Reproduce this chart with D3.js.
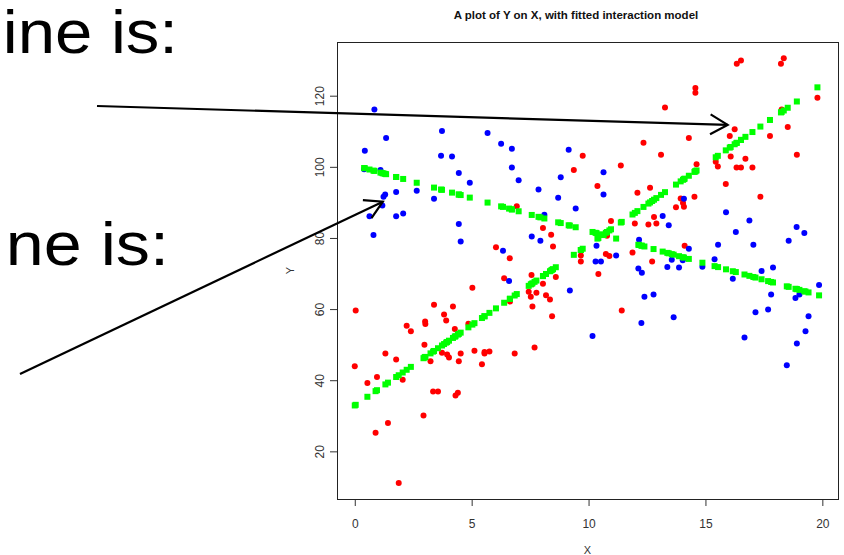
<!DOCTYPE html>
<html>
<head>
<meta charset="utf-8">
<script src="https://cdn.jsdelivr.net/npm/d3@7.9.0/dist/d3.min.js"></script>
<style>
  body { margin: 0; background: #fff; }
  svg { display: block; font-family: "Liberation Sans", Arial, sans-serif; }
</style>
</head>
<body>
<svg id="chart" width="844" height="555"></svg>
<script>
// group 1 (red) observations [X, Y]
const redPts = [
  [0.04,59.6],[0.0,43.9],[0.54,39.2],[0.95,40.9],[1.31,47.5],[1.77,45.8],[2.05,40.1],[0.89,25.2],
  [1.42,28.0],[1.88,11.1],[2.22,55.3],[2.40,53.8],[3.01,56.5],[3.02,55.8],[2.98,50.0],[3.39,61.2],
  [3.82,58.5],[3.91,56.8],[4.20,60.7],[4.28,54.4],[3.24,45.3],[3.73,47.7],[3.95,47.2],[4.03,46.4],
  [4.53,47.5],[4.45,45.3],[3.35,36.8],[3.56,36.8],[4.31,35.7],[4.41,36.5],[2.94,30.1],[4.86,55.9],
  [5.03,66.0],[5.12,48.3],[5.55,47.9],[5.55,47.5],[5.76,48.1],[5.44,44.5],[6.39,68.7],[7.56,69.6],
  [8.60,69.0],[8.05,67.1],[7.44,64.9],[7.77,64.6],[7.53,63.5],[8.18,63.9],[8.35,62.7],[6.64,62.1],
  [7.60,60.7],[8.44,58.0],[7.69,49.2],[6.84,47.5],[10.42,69.9],[11.42,59.6],[6.04,77.4],[6.63,74.3],
  [6.93,88.9],[8.05,82.8],[8.40,80.9],[8.48,77.6],[9.37,99.1],[9.75,103.1],[10.38,94.6],[11.38,100.4],
  [12.35,106.8],[13.10,103.4],[13.27,116.7],[12.63,94.1],[12.09,92.7],[12.80,85.9],[11.98,84.1],[12.56,83.8],
  [12.90,84.1],[10.96,84.8],[10.79,80.6],[9.67,75.1],[9.67,73.4],[10.74,75.5],[10.89,74.9],[11.88,75.9],
  [12.72,73.4],[16.34,129.0],[16.52,129.9],[18.23,129.0],[18.35,130.5],[14.57,122.2],[14.57,120.8],[19.79,119.4],
  [18.26,116.1],[16.25,110.6],[16.04,108.7],[18.52,111.2],[17.76,108.7],[14.29,108.1],[18.91,103.4],[16.08,102.9],
  [16.71,102.3],[15.44,101.4],[15.53,100.1],[16.33,99.8],[16.52,99.8],[17.01,99.8],[14.62,100.7],[15.87,95.2],
  [17.35,91.6],[14.53,91.6],[13.94,91.1],[14.04,89.8],[14.08,88.8],[13.74,88.6],[14.11,77.8]
];

// group 2 (blue) observations [X, Y]
const bluePts = [
  [0.84,116.1],[1.34,108.1],[0.43,104.5],[3.73,110.1],[5.68,109.5],[6.26,106.5],[3.69,103.1],[4.16,102.9],
  [0.40,99.3],[1.10,99.1],[4.45,98.3],[4.92,95.5],[1.77,92.9],[2.65,93.3],[1.30,92.2],[1.23,91.6],
  [1.18,89.1],[3.39,91.0],[0.63,86.1],[1.77,86.1],[2.07,86.9],[0.80,80.8],[4.45,83.9],[4.53,79.0],
  [6.34,76.4],[6.72,105.1],[6.72,99.8],[7.01,96.2],[9.15,104.8],[8.81,97.1],[7.86,93.6],[8.70,91.3],
  [9.45,88.3],[10.64,98.5],[10.64,92.2],[8.11,86.5],[7.57,80.4],[7.94,79.2],[10.34,77.8],[10.30,73.4],
  [10.53,73.4],[11.18,75.1],[13.17,86.2],[13.43,83.6],[12.16,79.5],[12.13,71.4],[13.37,71.8],[6.60,67.9],
  [9.20,65.2],[12.28,70.2],[12.39,63.5],[12.78,64.1],[12.26,56.1],[10.17,52.4],[14.08,91.0],[15.88,87.2],
  [16.88,84.9],[16.30,81.7],[18.90,83.1],[19.23,81.4],[15.54,78.1],[17.05,78.1],[18.56,79.2],[14.29,77.0],
  [13.56,73.9],[14.03,73.7],[15.39,74.0],[13.87,71.7],[14.87,71.9],[17.40,70.7],[17.89,71.7],[16.17,68.5],
  [17.81,64.1],[18.85,63.1],[19.02,64.1],[19.86,66.8],[13.64,57.7],[17.14,59.1],[17.68,59.9],[19.41,58.0],
  [19.28,53.8],[16.67,52.0],[18.91,50.3],[18.48,44.2]
];

// fitted interaction model: intercept and slope per group
const groupColors = ["#ff0000", "#0000ff"];
const fitIntercepts = [32.9, 100.4];
const fitSlopes = [4.52, -1.84];

const xTicks = [0, 5, 10, 15, 20];
const yTicks = [20, 40, 60, 80, 100, 120];
const titleText = "A plot of Y on X, with fitted interaction model";
const slideLines = ["ine is:", "ne is:"];

// arrows: tail in page pixels, tip in data units
const arrowTails = [[97, 106], [20, 374]];
const arrowTips = [[15.95, 111.8], [1.20, 90.2]];

const svg = d3.select("#chart");

// plot region (R style, axes padded 4%)
const x = d3.scaleLinear().domain([-0.76, 20.67]).range([337, 838]);
const y = d3.scaleLinear().domain([6.6, 135.1]).range([499, 42]);

// slide text on the left (slide font is a little wider than Arial)
svg.selectAll("text.slide")
  .data(slideLines)
  .join("text")
  .attr("class", "slide")
  .attr("transform", (d, i) => i === 0 ? "translate(178,53) scale(1.1,1)" : "translate(169,265) scale(1.12,1)")
  .attr("text-anchor", "end")
  .attr("font-size", 61)
  .attr("fill", "#000")
  .text(d => d);

// title
svg.append("text")
  .attr("x", 576)
  .attr("y", 18.5)
  .attr("text-anchor", "middle")
  .attr("font-size", 11.5)
  .attr("font-weight", "bold")
  .attr("fill", "#111")
  .text(titleText);

// axes
const xAxis = svg.append("g")
  .attr("transform", `translate(0,${y.range()[0]})`)
  .call(d3.axisBottom(x).tickValues(xTicks).tickSize(7).tickFormat(d3.format("d")));
xAxis.select(".domain").remove();
xAxis.selectAll("line").attr("stroke", "#333");
xAxis.selectAll("text")
  .attr("y", 28.7).attr("dy", 0)
  .attr("font-size", 12).attr("fill", "#333")
  .attr("font-family", "Liberation Sans, Arial, sans-serif");

const yAxis = svg.append("g")
  .attr("transform", `translate(${x.range()[0]},0)`)
  .call(d3.axisLeft(y).tickValues(yTicks).tickSize(7));
yAxis.select(".domain").remove();
yAxis.selectAll("line").attr("stroke", "#333");
yAxis.selectAll("text")
  .attr("x", 0).attr("y", -13.5).attr("dy", 0)
  .attr("transform", "rotate(-90)")
  .attr("text-anchor", "middle")
  .attr("font-size", 12).attr("fill", "#333")
  .attr("font-family", "Liberation Sans, Arial, sans-serif");

// axis titles
svg.append("text")
  .attr("x", (x.range()[0] + x.range()[1]) / 2)
  .attr("y", 554)
  .attr("text-anchor", "middle")
  .attr("font-size", 11).attr("fill", "#333")
  .text("X");
svg.append("text")
  .attr("transform", `translate(294,${(y.range()[0] + y.range()[1]) / 2}) rotate(-90)`)
  .attr("text-anchor", "middle")
  .attr("font-size", 11).attr("fill", "#333")
  .text("Y");

// box
svg.append("rect")
  .attr("x", x.range()[0] + 0.5)
  .attr("y", y.range()[1] + 0.5)
  .attr("width", x.range()[1] - x.range()[0])
  .attr("height", y.range()[0] - y.range()[1])
  .attr("fill", "none")
  .attr("stroke", "#222");

// observations
[redPts, bluePts].forEach((pts, g) => {
  svg.append("g").selectAll("circle")
    .data(pts)
    .join("circle")
    .attr("cx", d => x(d[0]))
    .attr("cy", d => y(d[1]))
    .attr("r", 3)
    .attr("fill", groupColors[g]);
});

// fitted values at each observed X
[redPts, bluePts].forEach((pts, g) => {
  svg.append("g").selectAll("rect")
    .data(pts)
    .join("rect")
    .attr("x", d => x(d[0]) - 3)
    .attr("y", d => y(fitIntercepts[g] + fitSlopes[g] * d[0]) - 3)
    .attr("width", 6)
    .attr("height", 6)
    .attr("fill", "#00ff00");
});

// arrows
arrowTails.forEach((tail, i) => {
  const tip = [x(arrowTips[i][0]), y(arrowTips[i][1])];
  const back = Math.atan2(tail[1] - tip[1], tail[0] - tip[0]);
  const len = 20, spread = Math.PI / 6;
  const b1 = [tip[0] + len * Math.cos(back + spread), tip[1] + len * Math.sin(back + spread)];
  const b2 = [tip[0] + len * Math.cos(back - spread), tip[1] + len * Math.sin(back - spread)];
  svg.append("line")
    .attr("x1", tail[0]).attr("y1", tail[1])
    .attr("x2", tip[0]).attr("y2", tip[1])
    .attr("stroke", "#000").attr("stroke-width", 2.2);
  svg.append("path")
    .attr("d", d3.line()([b1, tip, b2]))
    .attr("fill", "none")
    .attr("stroke", "#000").attr("stroke-width", 2.2);
});
</script>
</body>
</html>
